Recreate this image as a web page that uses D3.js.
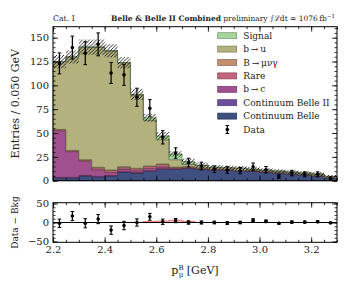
<!DOCTYPE html>
<html>
<head>
<meta charset="utf-8">
<style>
  body { margin: 0; background: #fff; }
  svg { font-family: "DejaVu Serif", serif; }
</style>
</head>
<body>
<svg width="349" height="291"></svg>

<script src="https://d3js.org/d3.v7.min.js"></script>
<script>
	// p_mu^B distribution, Cat. I, stacked MC + data, with Data - Bkg panel below

	const binLow = [2.20, 2.25, 2.30, 2.35, 2.40, 2.45, 2.50, 2.55, 2.60, 2.65, 2.70,
		2.75, 2.80, 2.85, 2.90, 2.95, 3.00, 3.05, 3.10, 3.15, 3.20, 3.25]
	const binWidth = 0.05

	// stacked components, bottom to top
	const contBelle   = [3, 3, 5, 4, 5, 9, 8, 10, 12, 12, 13, 12, 11, 11, 10, 10, 9, 8, 7, 6, 5, 3]
	const contBelleII = [0.5, 0.5, 0.5, 0.5, 0.5, 0.5, 0.5, 0.5, 0.5, 0.5, 0.5, 0.5, 0.5, 0.4, 0.4, 0.4, 0.3, 0.3, 0.3, 0.3, 0.2, 0.2]
	const bToC        = [49, 27, 15, 7, 3.2, 2.7, 2, 2.4, 2, 0.3, 0.1, 0.1, 0.1, 0, 0, 0, 0, 0, 0, 0, 0, 0]
	const rare        = [1, 1, 1.2, 2, 2, 2, 2, 2, 2.5, 1.2, 0.8, 0.6, 0.5, 0.4, 0.4, 0.3, 0.3, 0.3, 0.2, 0.2, 0.2, 0.1]
	const muNuGamma   = [0.3, 0.3, 0.3, 0.5, 0.5, 0.5, 0.5, 0.5, 0.5, 0.3, 0.3, 0.2, 0.2, 0.1, 0.1, 0.1, 0.1, 0.1, 0.1, 0.1, 0, 0]
	const bToU        = [71, 98, 118, 126, 125, 109, 77, 48, 25.5, 7.7, 2.3, 2.6, 1.7, 1.6, 2.1, 1.2, 1.3, 1.3, 1.4, 1.4, 1.6, 1.2]
	const signal      = [0, 0, 0, 0, 0, 0, 0.5, 2.5, 4, 6, 3, 0, 0, 0, 0, 0, 0, 0, 0, 0, 0, 0]
	const mcErr       = [7, 7, 8, 8, 7, 6, 6, 4, 4, 3, 3, 3, 2.5, 2.5, 2.5, 2.5, 2, 2, 2, 2, 2, 1.5]

	const dataVals = [123, 139.6, 133.7, 143, 113, 111, 87.5, 76, 45.5, 29, 19, 15.4, 12, 11.2, 10.5, 14.7, 11.5, 4.5, 8, 6.7, 6.7, 2.5]
	const dataErr  = [11, 12, 12, 12, 11, 11, 9.5, 9, 7, 5.5, 4.5, 4, 3.5, 3.5, 3.3, 3.8, 3.4, 2.2, 2.9, 2.6, 2.6, 1.6]
	const diffVals = [-2, 17, -2, 9, -20, -8, 0, 15, 2, 5, 0, 0, 0, -1.5, 0, 6, 3, -2, 1, 1, 2, -1]

	const components = [
		{key: "contBelle",   label: "Continuum Belle",    values: contBelle,   color: "#3e4f80"},
		{key: "contBelleII", label: "Continuum Belle II", values: contBelleII, color: "#6c4f9c"},
		{key: "bToC",        label: "b\u2009\u2192\u2009c", values: bToC,      color: "#a1508f"},
		{key: "rare",        label: "Rare",               values: rare,        color: "#c2647d"},
		{key: "muNuGamma",   label: "B\u2009\u2192\u2009\u03bc\u03bd\u03b3", values: muNuGamma, color: "#c48f6e"},
		{key: "bToU",        label: "b\u2009\u2192\u2009u", values: bToU,      color: "#b3b17d"},
		{key: "signal",      label: "Signal",             values: signal,      color: "#a6d59a"}
	]

	const xTicks = [2.2, 2.4, 2.6, 2.8, 3.0, 3.2]
	const yTicks = [0, 25, 50, 75, 100, 125, 150]
	const rTicks = [-50, 0, 50]

	// table for d3.stack
	const table = binLow.map((lo, i) => {
		const row = {lo: lo}
		components.forEach(c => row[c.key] = c.values[i])
		return row
	})

	const svg = d3.select("svg")
	const L = 53, R = 337
	const x = d3.scaleLinear().domain([2.2, 3.3]).range([L, R])
	const y = d3.scaleLinear().domain([0, 161.5]).range([180.7, 26.7])
	const yr = d3.scaleLinear().domain([-52, 52]).range([242.3, 202.7])

	// hatch patterns
	const defs = svg.append("defs")
	defs.append("pattern")
		.attr("id", "hatch").attr("patternUnits", "userSpaceOnUse")
		.attr("width", 3.5).attr("height", 3.5)
		.append("path")
		.attr("d", "M-1,1 l2,-2 M0,3.5 l3.5,-3.5 M2.5,4.5 l2,-2")
		.attr("stroke", "#000").attr("stroke-width", 0.8)
	defs.append("pattern")
		.attr("id", "hatchRed").attr("patternUnits", "userSpaceOnUse")
		.attr("width", 2.5).attr("height", 2.5)
		.append("path")
		.attr("d", "M-1,1 l2,-2 M0,2.5 l2.5,-2.5 M1.5,3.5 l2,-2")
		.attr("stroke", "#e8302a").attr("stroke-width", 0.8)

	// step helper: repeat last bin at the upper edge
	const stepPts = arr => arr.concat([Object.assign({}, arr[arr.length - 1], {lo: arr[arr.length - 1].lo + binWidth})])

	const stack = d3.stack().keys(components.map(c => c.key))
	const series = stack(table)

	const area = d3.area()
		.curve(d3.curveStepAfter)
		.x(d => x(d.lo))
		.y0(d => y(d.y0))
		.y1(d => y(d.y1))

	const main = svg.append("g")
	series.forEach((s, k) => {
		const pts = stepPts(s.map((d, i) => ({lo: binLow[i], y0: d[0], y1: d[1]})))
		main.append("path")
			.attr("d", area(pts))
			.attr("fill", components[k].color)
			.attr("stroke", d3.color(components[k].color).darker(1.6))
			.attr("stroke-width", 0.7)
	})

	// MC uncertainty band
	const totals = series[series.length - 1].map(d => d[1])
	const band = stepPts(binLow.map((lo, i) => ({lo: lo, y0: totals[i] - mcErr[i], y1: totals[i] + mcErr[i]})))
	main.append("path")
		.attr("d", area(band))
		.attr("fill", "url(#hatch)")

	// error bar points
	const cx = i => x(binLow[i] + binWidth / 2)
	function errPoints(g, vals, scale) {
		const p = g.selectAll(null).data(vals).join("g")
		p.append("line")
			.attr("x1", (d, i) => cx(i)).attr("x2", (d, i) => cx(i))
			.attr("y1", (d, i) => scale(d - dataErr[i])).attr("y2", (d, i) => scale(d + dataErr[i]))
			.attr("stroke", "#000").attr("stroke-width", 1.2)
		p.selectAll("line.cap").data((d, i) => [[i, d - dataErr[i]], [i, d + dataErr[i]]]).join("line")
			.attr("class", "cap")
			.attr("x1", d => cx(d[0]) - 1.8).attr("x2", d => cx(d[0]) + 1.8)
			.attr("y1", d => scale(d[1])).attr("y2", d => scale(d[1]))
			.attr("stroke", "#000").attr("stroke-width", 1)
		p.append("circle")
			.attr("cx", (d, i) => cx(i)).attr("cy", d => scale(d)).attr("r", 1.8)
			.attr("fill", "#000")
	}
	errPoints(main, dataVals, y)

	// ratio panel
	const rp = svg.append("g")
	const sigPts = stepPts(binLow.map((lo, i) => ({lo: lo, y0: 0, y1: signal[i]})))
	const rArea = d3.area().curve(d3.curveStepAfter)
		.x(d => x(d.lo)).y0(d => yr(d.y0)).y1(d => yr(d.y1))
	rp.append("path")
		.attr("d", rArea(sigPts.filter(d => d.lo >= 2.5 && d.lo <= 2.75)))
		.attr("fill", "url(#hatchRed)")
		.attr("stroke", "#e8302a").attr("stroke-width", 0.6)
	rp.append("line")
		.attr("x1", L).attr("x2", R).attr("y1", yr(0)).attr("y2", yr(0))
		.attr("stroke", "#000").attr("stroke-width", 1)
	errPoints(rp, diffVals, yr)

	// axes with inward ticks on all four sides
	const fmtX = d3.format(".1f")
	const fmtY = d => d < 0 ? "\u2212" + Math.abs(d) : String(d)
	function frame(yScale, majors, minorStep, top, bottom, withXLabels) {
		const g = svg.append("g")
		const xMinor = d3.range(2.2, 3.3001, 0.05)
		const [d0, d1] = yScale.domain()
		const yMinor = d3.range(Math.ceil(d0 / minorStep) * minorStep, d1, minorStep)
		const axes = [
			[d3.axisBottom(x).tickValues(xMinor).tickSize(-2.5), `translate(0,${bottom})`, null],
			[d3.axisTop(x).tickValues(xMinor).tickSize(-2.5), `translate(0,${top})`, null],
			[d3.axisBottom(x).tickValues(xTicks).tickSize(-5), `translate(0,${bottom})`, withXLabels ? fmtX : null],
			[d3.axisTop(x).tickValues(xTicks).tickSize(-5), `translate(0,${top})`, null],
			[d3.axisLeft(yScale).tickValues(yMinor).tickSize(-2.5), `translate(${L},0)`, null],
			[d3.axisRight(yScale).tickValues(yMinor).tickSize(-2.5), `translate(${R},0)`, null],
			[d3.axisLeft(yScale).tickValues(majors).tickSize(-5), `translate(${L},0)`, fmtY],
			[d3.axisRight(yScale).tickValues(majors).tickSize(-5), `translate(${R},0)`, null]
		]
		axes.forEach(([ax, tr, fmt]) => {
			const a = g.append("g").attr("transform", tr)
				.call(ax.tickPadding(4).tickFormat(fmt || (() => "")))
			a.select(".domain").remove()
			a.selectAll("line").attr("stroke", "#000").attr("stroke-width", 0.8)
			a.selectAll("text").attr("font-size", 10).attr("font-family", "DejaVu Serif, serif").attr("fill", "#222")
		})
		g.append("rect")
			.attr("x", L).attr("y", top).attr("width", R - L).attr("height", bottom - top)
			.attr("fill", "none").attr("stroke", "#000").attr("stroke-width", 1)
	}
	frame(y, yTicks, 5, 26.7, 180.7, false)
	frame(yr, rTicks, 10, 202.7, 242.3, true)

	// legend
	const legendItems = components.slice().reverse()
	const lg = svg.append("g").attr("font-size", 9)
	legendItems.forEach((c, i) => {
		const yy = 35.7 + i * 13.4
		lg.append("rect")
			.attr("x", 217.7).attr("y", yy - 3).attr("width", 19).attr("height", 6)
			.attr("fill", c.color).attr("stroke", d3.color(c.color).darker(1)).attr("stroke-width", 0.7)
		lg.append("text").attr("x", 243.3).attr("y", yy).attr("dy", "0.35em").attr("fill", "#222").text(c.label)
	})
	const dy = 35.7 + 7 * 13.4
	lg.append("line").attr("x1", 227.3).attr("x2", 227.3).attr("y1", dy - 4).attr("y2", dy + 4).attr("stroke", "#000").attr("stroke-width", 1.2)
	lg.append("line").attr("x1", 225.5).attr("x2", 229.1).attr("y1", dy - 4).attr("y2", dy - 4).attr("stroke", "#000")
	lg.append("line").attr("x1", 225.5).attr("x2", 229.1).attr("y1", dy + 4).attr("y2", dy + 4).attr("stroke", "#000")
	lg.append("circle").attr("cx", 227.3).attr("cy", dy).attr("r", 1.8)
	lg.append("text").attr("x", 243.3).attr("y", dy).attr("dy", "0.35em").attr("fill", "#222").text("Data")

	// titles
	svg.append("text").attr("x", L).attr("y", 21).attr("font-size", 7.8).attr("fill", "#222").text("Cat. I")
	const tt = svg.append("text").attr("x", 335).attr("y", 21).attr("font-size", 7.5)
		.attr("text-anchor", "end").attr("fill", "#222")
	tt.append("tspan").attr("font-weight", "bold").text("Belle & Belle II Combined")
	tt.append("tspan").text(" preliminary \u222b\u2112dt = 1076\u2009fb")
	tt.append("tspan").attr("dy", -3).attr("font-size", 5.5).text("\u22121")

	// axis labels
	svg.append("text")
		.attr("transform", "translate(18.5,103.7) rotate(-90)")
		.attr("text-anchor", "middle").attr("font-size", 11).attr("fill", "#222")
		.text("Entries / 0.050 GeV")
	svg.append("text")
		.attr("transform", "translate(18,222.5) rotate(-90)")
		.attr("text-anchor", "middle").attr("font-size", 9).attr("fill", "#222")
		.text("Data \u2212 Bkg")
	const xl = svg.append("text").attr("x", 195).attr("y", 274)
		.attr("text-anchor", "middle").attr("font-size", 11).attr("fill", "#222")
	xl.append("tspan").text("p")
	xl.append("tspan").attr("dy", -4.5).attr("font-size", 7).text("B")
	xl.append("tspan").attr("dx", -4.8).attr("dy", 7).attr("font-size", 7).text("\u03bc")
	xl.append("tspan").attr("dy", -2.5).text(" [GeV]")
</script>
</body>
</html>
